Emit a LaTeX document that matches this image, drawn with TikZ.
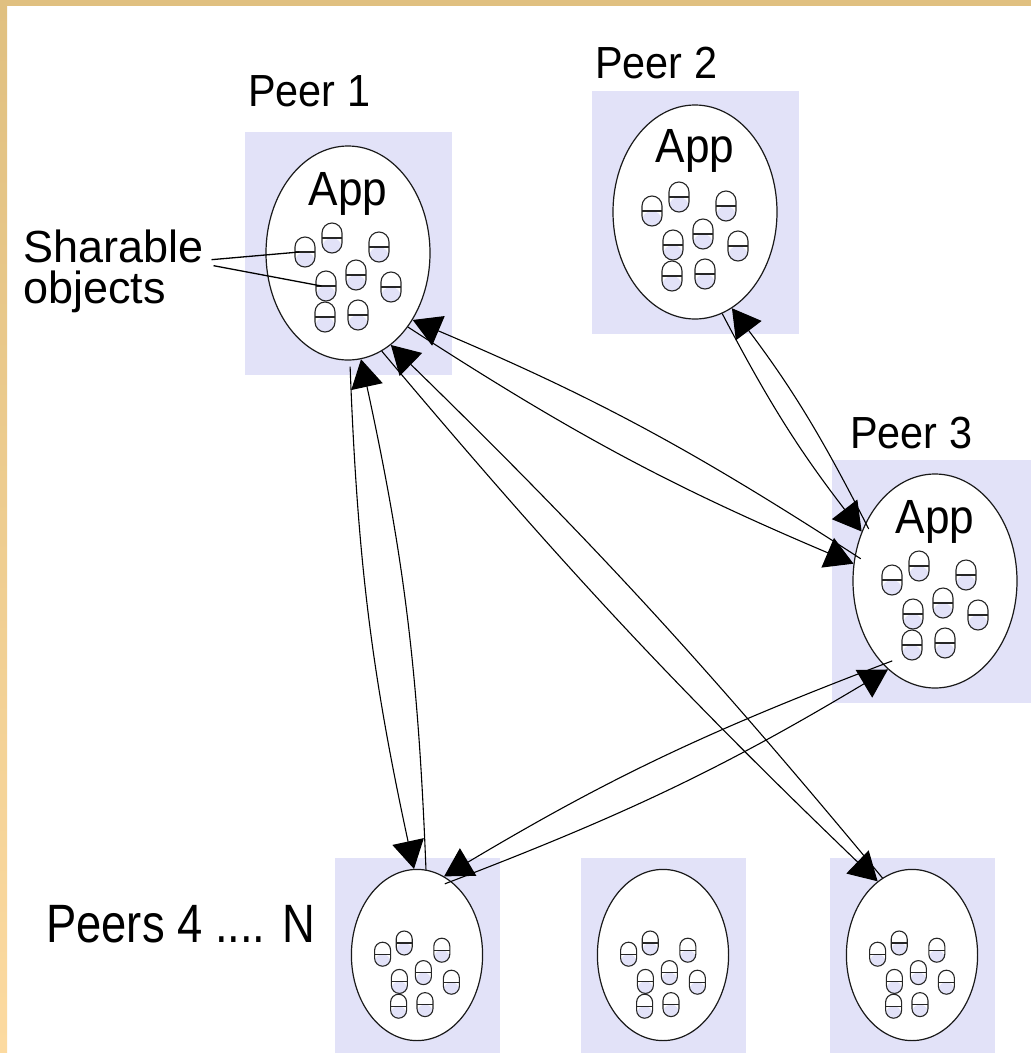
\documentclass[tikz,border=0pt]{standalone}
\usepackage{fontspec}
\setmainfont{Liberation Sans}
\newfontfamily\peerfont{Liberation Sans}[FakeStretch=0.92]
\newfontfamily\restfont{Liberation Sans}[FakeStretch=0.84]
\usetikzlibrary{arrows.meta, shapes.geometric}
\definecolor{peerblue}{RGB}{226,226,248}
\definecolor{frametop}{RGB}{224,192,128}
\definecolor{framebottom}{RGB}{252,218,160}
\tikzset{
  peerlabel/.style={font=\peerfont\fontsize{45}{40}\selectfont, inner sep=0},
  applabel/.style={font=\peerfont\fontsize{48}{48}\selectfont, inner sep=0},
  sharelabel/.style={font=\fontsize{45}{41}\selectfont, inner sep=0, align=left},
  restlabel/.style={font=\restfont\fontsize{54}{54}\selectfont, inner sep=0},
  peernode/.style={ellipse, draw=black!90, fill=white, line width=1.2pt, inner sep=0},
  capsule/.style={draw=black!85, line width=1.1pt, inner sep=0,
    path picture={
      \fill[peerblue] (path picture bounding box.west) rectangle (path picture bounding box.south east);
      \draw[black!85, line width=1.1pt] (path picture bounding box.west) -- (path picture bounding box.east);}},
  conn/.style={-{Triangle[length=28pt, width=32pt]}, line width=1.1pt, draw=black},
  pointer/.style={line width=1.3pt, draw=black}
}
% peer: name, x, y, scale
\newcommand{\drawpeer}[4]{%
  \fill[peerblue] (#2-103*#4, #3-122*#4) rectangle (#2+104*#4, #3+121*#4);
  \node[peernode, minimum width=164*#4, minimum height=214*#4] (#1) at (#2,#3) {};
  \foreach \dx/\dy [count=\i] in {-43/1, -16/15, 31/6, -22/-33, 8/-22, 43/-34, -23/-64, 10/-62}
    \node[capsule, minimum width=20*#4, minimum height=30*#4, rounded corners=10*#4]
      (#1-o\i) at ({#2+\dx*#4}, {#3+\dy*#4}) {};
}

\begin{document}
\begin{tikzpicture}[x=1pt, y=1pt]
  \useasboundingbox (0,0) rectangle (1031,-1053);
  \shade[top color=frametop, bottom color=framebottom] (0,0) rectangle (7,-1053);
  \fill[frametop] (0,0) rectangle (1031,-6);

  \drawpeer{p1}{348}{-253}{1}
  \drawpeer{p2}{695}{-212}{1}
  \drawpeer{p3}{935}{-581}{1}
  \drawpeer{p4}{417}{-955}{0.8}
  \drawpeer{p5}{663}{-955}{0.8}
  \drawpeer{p6}{912}{-955}{0.8}

  \node[applabel, anchor=base] (p1-app) at ([yshift=48]p1.center) {App};
  \node[applabel, anchor=base] (p2-app) at ([yshift=50]p2.center) {App};
  \node[applabel, anchor=base] (p3-app) at ([yshift=48]p3.center) {App};

  \node[peerlabel, anchor=base west] (p1-label) at (248,-106) {Peer 1};
  \node[peerlabel, anchor=base west] (p2-label) at (595,-78) {Peer 2};
  \node[peerlabel, anchor=base west] (p3-label) at (850,-448) {Peer 3};
  \node[restlabel, anchor=base west] (rest-label) at (46,-942) {Peers 4 .... N};
  \node[sharelabel, anchor=north west] (share) at (23,-230) {Sharable\\objects};

  \draw[pointer] ([shift={(8,12)}]share.east) -- ([xshift=5]p1-o1.west);
  \draw[pointer] ([shift={(10,6)}]share.east) -- ([xshift=6]p1-o4.west);

  % links between the peers
  \draw[conn, shorten <=6pt] (p1.-89) to[bend right=5] (p4.92);
  \draw[conn] (p4.84) to[bend right=5] (p1.-83);
  \draw[conn] (p1.-71) to[bend right=3] (p6.115);
  \draw[conn] (p6.111) to[bend right=3] (p1.-65);
  \draw[conn] (p1.-51) to[bend right=5] (p3.168);
  \draw[conn, shorten <=-7pt] (p3.162) to[bend right=5] (p1.-46);
  \draw[conn] (p2.-75) to[bend right=5] (p3.146);
  \draw[conn, shorten <=-7pt] (p3.140) to[bend right=5] (p2.-69);
  \draw[conn, shorten <=-10pt] (p3.-122) to[bend right=5] (p4.71);
  \draw[conn, shorten <=-7pt] (p4.65) to[bend right=5] (p3.-118);
\end{tikzpicture}
\end{document}
